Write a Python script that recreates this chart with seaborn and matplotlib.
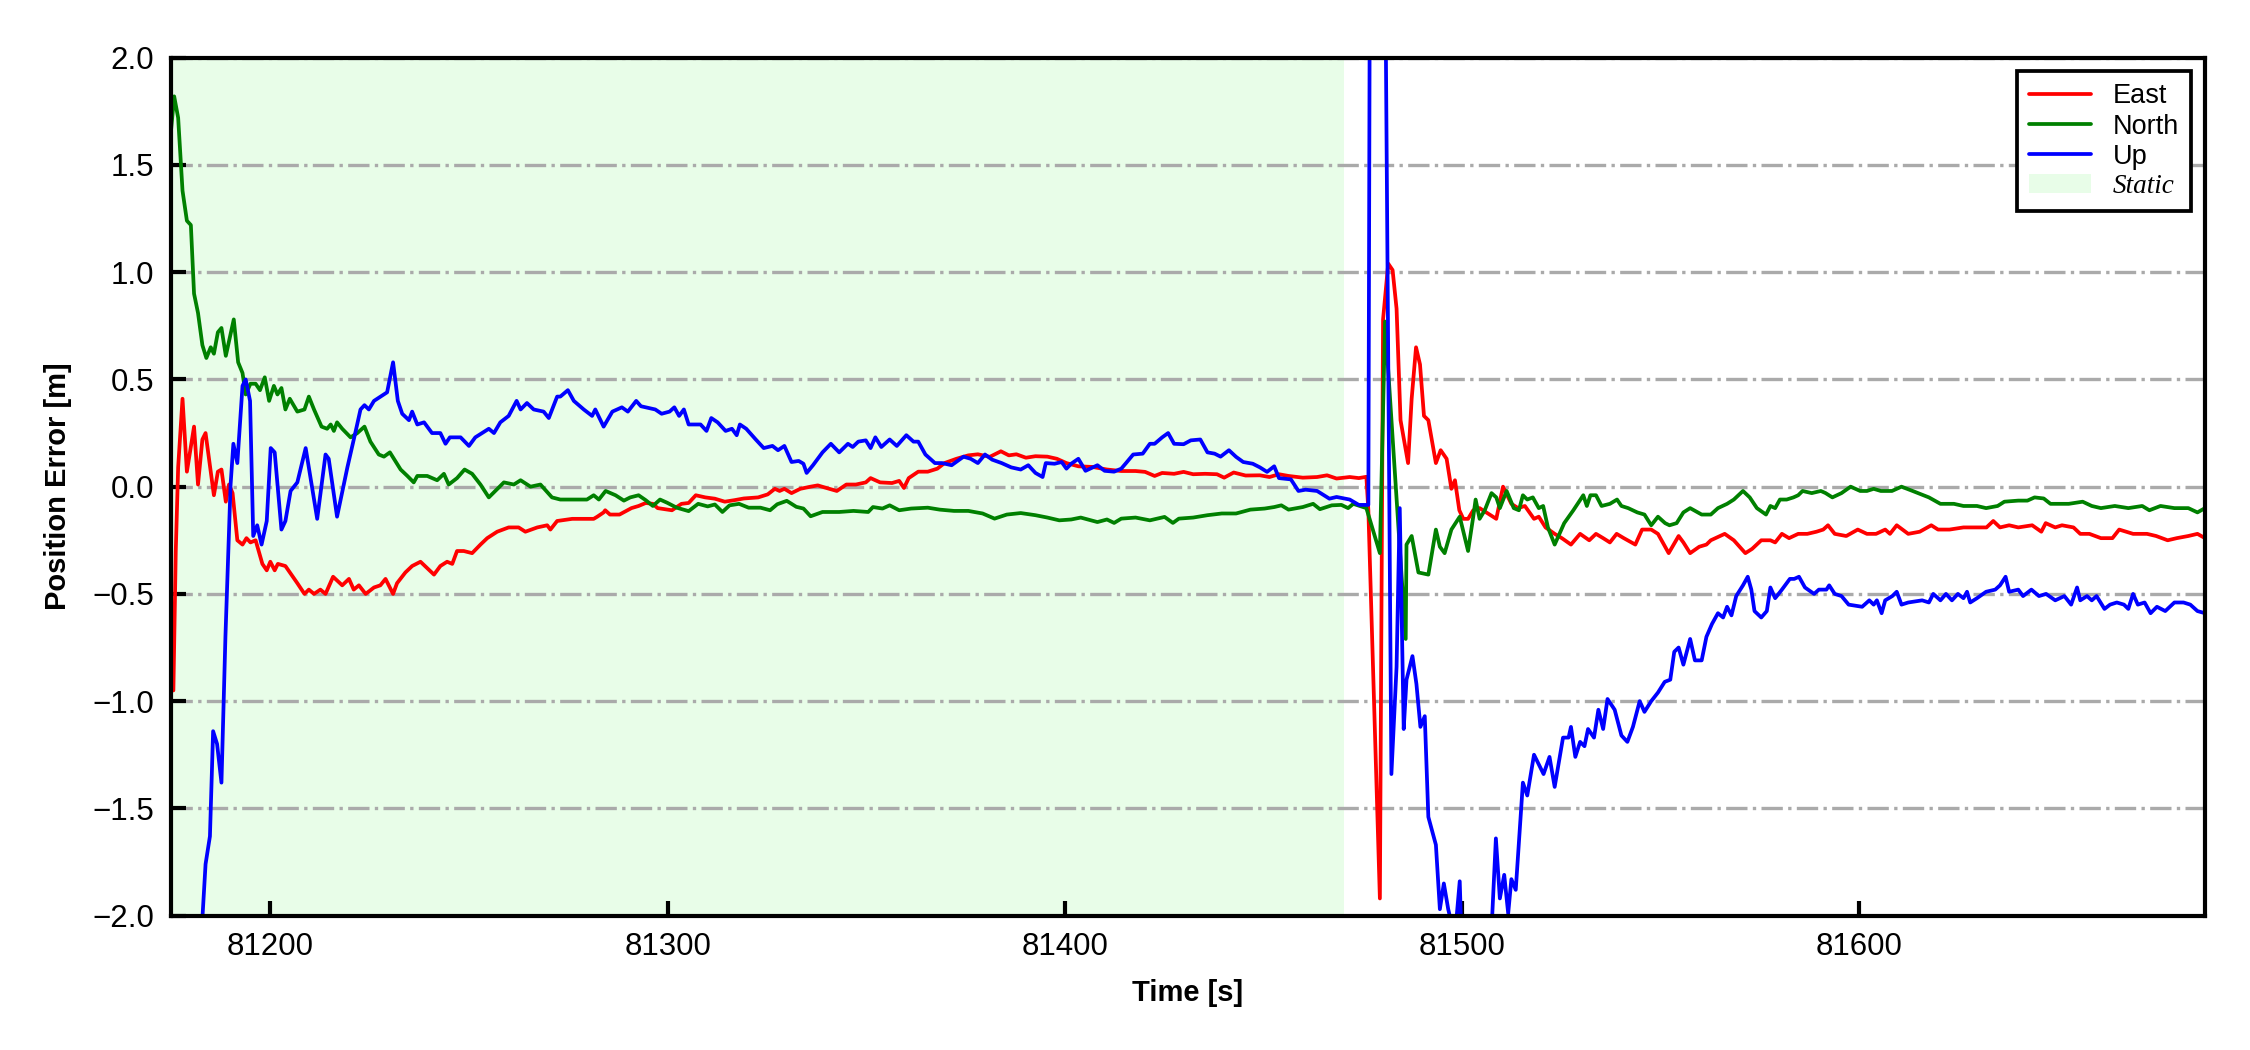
import numpy as np
import pandas as pd
import matplotlib
matplotlib.use("Agg")
import matplotlib.pyplot as plt
import seaborn as sns

# ----------------------------------------------------------------------------
# Data (time in s, position error in m)
# ----------------------------------------------------------------------------
east_t = [81175.0, 81175.6, 81176.2, 81176.8, 81177.9, 81179.0, 81180.8, 81181.8, 81182.9, 81183.7,
          81185.8, 81186.8, 81187.7, 81188.8, 81189.6, 81190.5, 81191.7, 81193.0, 81194.0, 81195.0,
          81196.3, 81198.0, 81199.1, 81200.0, 81201.1, 81201.9, 81203.8, 81205.3, 81206.8, 81208.6,
          81209.7, 81211.0, 81212.6, 81213.9, 81215.8, 81218.1, 81219.8, 81221.0, 81222.3, 81224.0,
          81226.1, 81227.7, 81229.0, 81230.9, 81231.9, 81234.0, 81235.7, 81237.8, 81239.5, 81241.2,
          81242.8, 81244.5, 81245.8, 81247.0, 81248.7, 81250.8, 81252.9, 81254.6, 81257.1, 81260.0,
          81262.5, 81264.2, 81267.2, 81269.7, 81270.5, 81272.2, 81276.0, 81278.9, 81281.4, 81282.3,
          81283.9, 81284.3, 81285.5, 81287.9, 81290.9, 81292.7, 81294.5, 81296.3, 81297.5, 81301.1,
          81303.5, 81305.3, 81307.1, 81309.5, 81311.9, 81314.4, 81316.8, 81319.2, 81322.8, 81325.2,
          81327.0, 81328.2, 81329.4, 81331.2, 81333.4, 81336.0, 81337.8, 81339.6, 81342.6, 81345.0,
          81347.4, 81349.9, 81351.1, 81353.5, 81356.5, 81358.3, 81359.5, 81360.7, 81363.1, 81365.5,
          81367.9, 81369.7, 81372.7, 81375.7, 81378.1, 81381.1, 81383.9, 81385.9, 81387.8, 81390.2,
          81392.6, 81395.6, 81398.0, 81400.4, 81403.4, 81407.0, 81410.6, 81414.2, 81417.8, 81420.2,
          81422.6, 81424.5, 81427.5, 81429.9, 81432.3, 81435.3, 81438.3, 81440.1, 81442.5, 81445.5,
          81449.1, 81451.5, 81453.9, 81456.3, 81459.9, 81463.5, 81466.0, 81468.4, 81471.7, 81474.0,
          81475.9, 81476.4, 81479.3, 81480.1, 81481.4, 81482.5, 81483.5, 81484.5, 81486.4, 81487.3,
          81488.4, 81489.4, 81490.4, 81491.5, 81493.4, 81494.6, 81496.1, 81497.3, 81498.2, 81499.3,
          81500.3, 81501.5, 81502.8, 81504.4, 81506.1, 81508.6, 81510.3, 81512.4, 81514.1, 81515.8,
          81518.1, 81519.3, 81521.0, 81523.3, 81525.1, 81527.4, 81529.7, 81532.0, 81533.7, 81535.5,
          81537.2, 81538.9, 81540.7, 81543.6, 81545.3, 81547.6, 81549.3, 81552.0, 81554.5, 81555.7,
          81557.4, 81559.7, 81561.5, 81562.6, 81566.1, 81568.4, 81571.3, 81573.0, 81575.3, 81577.6,
          81578.8, 81580.5, 81582.3, 81584.6, 81586.9, 81589.2, 81590.9, 81592.1, 81593.8, 81596.7,
          81599.6, 81601.9, 81604.2, 81606.5, 81607.7, 81609.4, 81612.3, 81615.2, 81618.1, 81619.8,
          81622.7, 81626.2, 81629.6, 81632.0, 81633.7, 81635.4, 81637.7, 81640.0, 81643.5, 81645.8,
          81646.9, 81649.3, 81651.0, 81653.9, 81655.6, 81657.9, 81660.8, 81663.7, 81665.4, 81668.9,
          81672.4, 81674.7, 81677.6, 81679.9, 81682.8, 81685.1, 81687.0]
east_v = [-0.95, -0.95, -0.30, 0.09, 0.41, 0.07, 0.28, 0.01, 0.22, 0.25,
          -0.04, 0.07, 0.08, -0.07, 0.01, -0.03, -0.25, -0.27, -0.24, -0.26,
          -0.25, -0.36, -0.39, -0.35, -0.39, -0.36, -0.37, -0.41, -0.45, -0.50,
          -0.48, -0.50, -0.48, -0.50, -0.42, -0.46, -0.43, -0.48, -0.46, -0.50,
          -0.47, -0.46, -0.43, -0.50, -0.45, -0.40, -0.37, -0.35, -0.38, -0.41,
          -0.37, -0.35, -0.36, -0.30, -0.30, -0.31, -0.27, -0.24, -0.21, -0.19,
          -0.19, -0.21, -0.19, -0.18, -0.20, -0.16, -0.15, -0.15, -0.15, -0.14,
          -0.12, -0.11, -0.13, -0.13, -0.10, -0.09, -0.076, -0.08, -0.10, -0.11,
          -0.08, -0.076, -0.04, -0.05, -0.056, -0.07, -0.063, -0.055, -0.05, -0.036,
          -0.01, -0.02, -0.01, -0.03, -0.01, 0.0, 0.006, -0.004, -0.02, 0.01,
          0.01, 0.02, 0.04, 0.02, 0.017, 0.027, -0.006, 0.04, 0.07, 0.07,
          0.084, 0.11, 0.13, 0.146, 0.151, 0.139, 0.165, 0.146, 0.151, 0.135,
          0.142, 0.14, 0.13, 0.11, 0.095, 0.092, 0.08, 0.073, 0.073, 0.069,
          0.05, 0.064, 0.06, 0.069, 0.058, 0.06, 0.058, 0.042, 0.066, 0.052,
          0.053, 0.045, 0.058, 0.05, 0.042, 0.045, 0.053, 0.038, 0.045, 0.04,
          0.046, -0.11, -1.92, 0.78, 1.04, 1.01, 0.83, 0.31, 0.11, 0.41,
          0.65, 0.57, 0.33, 0.31, 0.11, 0.17, 0.13, -0.01, 0.03, -0.11,
          -0.15, -0.15, -0.11, -0.10, -0.12, -0.15, 0.0, -0.08, -0.10, -0.09,
          -0.15, -0.14, -0.19, -0.22, -0.24, -0.27, -0.22, -0.25, -0.22, -0.24,
          -0.26, -0.22, -0.24, -0.27, -0.20, -0.20, -0.22, -0.31, -0.23, -0.26,
          -0.31, -0.28, -0.27, -0.25, -0.22, -0.25, -0.31, -0.29, -0.25, -0.25,
          -0.26, -0.22, -0.24, -0.22, -0.22, -0.21, -0.20, -0.18, -0.22, -0.23,
          -0.20, -0.22, -0.22, -0.20, -0.22, -0.18, -0.22, -0.21, -0.18, -0.20,
          -0.20, -0.19, -0.19, -0.19, -0.16, -0.19, -0.18, -0.19, -0.18, -0.21,
          -0.17, -0.19, -0.18, -0.19, -0.22, -0.22, -0.24, -0.24, -0.20, -0.22,
          -0.22, -0.23, -0.25, -0.24, -0.23, -0.22, -0.24]

north_t = [81175.0, 81175.8, 81176.8, 81177.9, 81179.0, 81180.0, 81180.8, 81181.8, 81182.9, 81183.9,
           81185.0, 81185.8, 81186.8, 81187.7, 81188.8, 81190.8, 81191.9, 81193.0, 81193.8, 81195.0,
           81196.3, 81197.4, 81198.6, 81199.7, 81200.9, 81201.8, 81202.8, 81203.8, 81204.9, 81206.8,
           81208.6, 81209.7, 81211.0, 81212.9, 81214.3, 81215.2, 81216.0, 81216.8, 81218.1, 81220.2,
           81221.9, 81223.7, 81225.2, 81227.3, 81228.6, 81230.1, 81232.8, 81234.5, 81236.1, 81237.0,
           81239.5, 81242.0, 81243.7, 81244.9, 81247.0, 81248.9, 81250.8, 81252.9, 81255.0, 81258.8,
           81261.3, 81263.0, 81265.5, 81268.0, 81270.9, 81273.0, 81276.0, 81279.7, 81281.4, 81282.7,
           81284.4, 81286.9, 81289.0, 81290.6, 81292.7, 81294.5, 81296.3, 81298.1, 81299.9, 81302.3,
           81305.3, 81307.7, 81310.1, 81311.9, 81313.8, 81315.6, 81318.0, 81320.4, 81323.4, 81325.8,
           81327.6, 81330.0, 81332.4, 81334.2, 81336.0, 81339.0, 81343.2, 81346.8, 81350.5, 81351.7,
           81354.1, 81355.9, 81358.3, 81361.3, 81365.5, 81368.5, 81372.1, 81375.7, 81379.3, 81382.3,
           81385.4, 81388.9, 81392.6, 81395.6, 81398.6, 81401.6, 81404.0, 81408.2, 81410.6, 81412.4,
           81414.2, 81417.8, 81421.4, 81425.1, 81427.2, 81428.7, 81432.3, 81435.9, 81439.5, 81443.1,
           81446.7, 81450.3, 81452.7, 81454.5, 81456.3, 81459.9, 81462.5, 81464.2, 81467.2, 81469.6,
           81471.3, 81472.6, 81475.9, 81479.3, 81480.6, 81485.8, 81486.0, 81487.3, 81489.0, 81491.5,
           81493.4, 81494.4, 81495.6, 81497.3, 81499.4, 81501.5, 81502.8, 81503.4, 81504.4, 81505.7,
           81507.4, 81508.6, 81509.5, 81511.2, 81513.0, 81514.3, 81515.3, 81516.4, 81517.8, 81519.3,
           81520.4, 81521.6, 81523.3, 81525.7, 81528.0, 81530.5, 81531.4, 81532.3, 81533.7, 81535.1,
           81537.2, 81539.0, 81540.1, 81541.8, 81544.1, 81545.9, 81547.6, 81549.3, 81551.1, 81552.2,
           81554.0, 81555.7, 81557.4, 81560.3, 81562.6, 81564.4, 81566.7, 81568.4, 81570.7, 81572.4,
           81574.2, 81576.5, 81577.6, 81578.8, 81580.0, 81581.7, 81583.4, 81584.6, 81585.7, 81588.0,
           81590.3, 81591.5, 81593.2, 81595.5, 81597.8, 81600.2, 81601.9, 81603.6, 81605.4, 81608.2,
           81610.6, 81613.4, 81617.5, 81620.4, 81623.8, 81626.2, 81629.6, 81631.9, 81634.8, 81636.5,
           81640.0, 81642.3, 81644.1, 81646.4, 81648.1, 81652.7, 81656.2, 81658.5, 81660.8, 81664.3,
           81667.7, 81671.2, 81673.0, 81675.8, 81679.3, 81682.8, 81685.1, 81687.0]
north_v = [1.66, 1.82, 1.72, 1.38, 1.24, 1.22, 0.90, 0.81, 0.66, 0.60,
           0.65, 0.62, 0.72, 0.74, 0.61, 0.78, 0.58, 0.53, 0.43, 0.48,
           0.48, 0.45, 0.51, 0.40, 0.47, 0.43, 0.46, 0.36, 0.41, 0.35,
           0.36, 0.42, 0.36, 0.28, 0.27, 0.29, 0.26, 0.30, 0.27, 0.23,
           0.25, 0.28, 0.21, 0.15, 0.14, 0.16, 0.08, 0.05, 0.02, 0.05,
           0.05, 0.03, 0.06, 0.01, 0.04, 0.08, 0.06, 0.01, -0.05, 0.02,
           0.01, 0.03, 0.0, 0.01, -0.05, -0.06, -0.06, -0.06, -0.04, -0.06,
           -0.02, -0.04, -0.065, -0.05, -0.04, -0.063, -0.09, -0.06, -0.075, -0.098,
           -0.114, -0.08, -0.092, -0.083, -0.118, -0.087, -0.08, -0.098, -0.098, -0.11,
           -0.082, -0.066, -0.094, -0.102, -0.138, -0.118, -0.118, -0.113, -0.118, -0.095,
           -0.102, -0.087, -0.11, -0.102, -0.098, -0.107, -0.113, -0.113, -0.125, -0.149,
           -0.13, -0.123, -0.133, -0.144, -0.157, -0.153, -0.144, -0.165, -0.153, -0.169,
           -0.149, -0.144, -0.157, -0.141, -0.169, -0.149, -0.144, -0.133, -0.125, -0.125,
           -0.107, -0.102, -0.095, -0.087, -0.107, -0.095, -0.08, -0.105, -0.087, -0.085,
           -0.10, -0.08, -0.10, -0.31, 0.77, -0.71, -0.27, -0.23, -0.40, -0.41,
           -0.20, -0.28, -0.31, -0.20, -0.14, -0.30, -0.14, -0.06, -0.15, -0.11,
           -0.03, -0.05, -0.10, -0.02, -0.10, -0.11, -0.04, -0.06, -0.05, -0.10,
           -0.09, -0.19, -0.27, -0.17, -0.11, -0.04, -0.09, -0.04, -0.04, -0.09,
           -0.08, -0.06, -0.09, -0.10, -0.12, -0.13, -0.18, -0.14, -0.17, -0.18,
           -0.17, -0.12, -0.10, -0.13, -0.13, -0.10, -0.08, -0.06, -0.02, -0.05,
           -0.10, -0.13, -0.09, -0.10, -0.06, -0.06, -0.05, -0.04, -0.02, -0.03,
           -0.02, -0.03, -0.05, -0.03, 0.0, -0.02, -0.02, -0.01, -0.02, -0.02,
           0.0, -0.02, -0.05, -0.08, -0.08, -0.09, -0.09, -0.10, -0.09, -0.07,
           -0.065, -0.065, -0.05, -0.055, -0.08, -0.08, -0.07, -0.09, -0.10, -0.09,
           -0.10, -0.09, -0.11, -0.09, -0.10, -0.10, -0.12, -0.10]

up_t = [81175.0, 81182.0, 81183.7, 81184.8, 81185.6, 81186.6, 81187.7, 81188.7, 81190.0, 81190.7,
        81191.7, 81193.0, 81193.8, 81194.9, 81195.7, 81196.7, 81197.8, 81199.1, 81200.1, 81201.1,
        81202.8, 81203.8, 81205.1, 81206.8, 81208.9, 81211.8, 81213.9, 81214.7, 81216.8, 81219.4,
        81221.5, 81222.7, 81223.7, 81224.8, 81226.1, 81228.6, 81229.4, 81230.9, 81232.1, 81233.2,
        81234.9, 81235.7, 81237.0, 81238.7, 81240.7, 81242.8, 81244.1, 81245.2, 81247.9, 81250.0,
        81251.6, 81255.0, 81256.3, 81257.9, 81260.0, 81262.0, 81263.0, 81264.6, 81266.3, 81268.8,
        81270.1, 81272.2, 81273.0, 81274.9, 81276.4, 81278.9, 81281.0, 81281.8, 81283.9, 81286.1,
        81288.5, 81290.0, 81292.1, 81293.3, 81296.9, 81298.5, 81300.5, 81301.7, 81302.9, 81304.1,
        81305.3, 81308.3, 81309.8, 81311.0, 81312.6, 81314.6, 81316.2, 81317.4, 81318.2, 81319.8,
        81322.2, 81324.2, 81326.4, 81327.8, 81329.4, 81331.2, 81333.0, 81334.2, 81335.0, 81336.6,
        81339.0, 81341.1, 81343.2, 81345.4, 81346.6, 81348.0, 81349.9, 81351.1, 81352.3, 81353.8,
        81355.9, 81357.7, 81360.1, 81361.9, 81363.1, 81364.9, 81367.3, 81369.1, 81371.5, 81374.5,
        81376.3, 81378.1, 81379.9, 81381.7, 81384.1, 81386.5, 81388.9, 81390.8, 81392.6, 81394.4,
        81395.2, 81397.4, 81399.2, 81400.4, 81401.6, 81403.4, 81405.2, 81408.2, 81410.0, 81412.4,
        81414.2, 81415.4, 81417.2, 81419.6, 81421.4, 81422.6, 81424.5, 81426.0, 81427.5, 81429.9,
        81431.7, 81434.1, 81435.9, 81437.7, 81439.2, 81441.3, 81443.1, 81444.9, 81447.3, 81449.1,
        81450.9, 81452.7, 81453.9, 81456.9, 81458.8, 81460.6, 81463.5, 81466.6, 81468.4, 81471.7,
        81474.0, 81476.4, 81477.0, 81480.0, 81482.2, 81483.5, 81484.3, 81485.3, 81486.0, 81487.5,
        81488.5, 81489.5, 81490.6, 81491.5, 81493.4, 81494.4, 81495.4, 81496.5, 81497.5, 81498.6,
        81499.4, 81500.0, 81504.0, 81507.4, 81508.5, 81509.5, 81510.6, 81511.6, 81512.4, 81513.5,
        81515.3, 81516.4, 81518.1, 81520.5, 81522.0, 81523.3, 81525.4, 81526.8, 81527.4, 81528.5,
        81529.7, 81530.8, 81531.7, 81533.2, 81534.3, 81535.5, 81536.6, 81538.4, 81540.1, 81541.6,
        81543.0, 81544.7, 81545.9, 81547.6, 81549.3, 81551.0, 81552.4, 81553.4, 81554.5, 81555.7,
        81557.4, 81558.6, 81560.3, 81561.5, 81562.9, 81564.4, 81565.7, 81566.7, 81567.8, 81569.0,
        81570.7, 81571.9, 81572.8, 81573.6, 81575.3, 81576.7, 81577.6, 81578.8, 81580.5, 81582.5,
        81583.6, 81584.8, 81586.3, 81588.6, 81589.8, 81591.7, 81592.4, 81593.8, 81595.5, 81597.3,
        81600.7, 81602.5, 81603.6, 81604.4, 81605.6, 81606.5, 81608.3, 81609.4, 81610.6, 81612.3,
        81615.8, 81617.5, 81618.6, 81620.4, 81621.8, 81623.3, 81624.8, 81626.2, 81627.1, 81627.9,
        81629.6, 81631.9, 81634.2, 81635.4, 81636.8, 81637.7, 81640.0, 81641.2, 81643.3, 81645.2,
        81647.0, 81649.3, 81651.6, 81653.3, 81654.8, 81655.6, 81657.3, 81658.5, 81659.7, 81661.7,
        81663.1, 81664.8, 81666.6, 81667.7, 81668.9, 81670.1, 81671.8, 81673.3, 81674.9, 81677.0,
        81679.3, 81681.6, 81683.3, 81685.1, 81687.0]
up_v = [-3.2, -2.3, -1.76, -1.63, -1.14, -1.20, -1.38, -0.70, 0.01, 0.20,
        0.11, 0.47, 0.50, 0.40, -0.23, -0.18, -0.27, -0.16, 0.18, 0.16,
        -0.20, -0.16, -0.02, 0.02, 0.18, -0.15, 0.15, 0.13, -0.14, 0.09,
        0.26, 0.36, 0.38, 0.36, 0.40, 0.43, 0.44, 0.58, 0.40, 0.34,
        0.31, 0.35, 0.29, 0.30, 0.25, 0.25, 0.20, 0.23, 0.23, 0.19,
        0.23, 0.27, 0.25, 0.30, 0.33, 0.40, 0.36, 0.39, 0.36, 0.35,
        0.32, 0.42, 0.42, 0.45, 0.40, 0.36, 0.33, 0.36, 0.28, 0.35,
        0.37, 0.35, 0.40, 0.375, 0.36, 0.34, 0.35, 0.37, 0.33, 0.36,
        0.29, 0.29, 0.26, 0.32, 0.30, 0.26, 0.27, 0.24, 0.29, 0.27,
        0.22, 0.18, 0.19, 0.17, 0.19, 0.115, 0.12, 0.107, 0.064, 0.10,
        0.16, 0.20, 0.16, 0.20, 0.185, 0.21, 0.216, 0.18, 0.23, 0.185,
        0.22, 0.19, 0.24, 0.21, 0.21, 0.15, 0.11, 0.11, 0.10, 0.14,
        0.13, 0.11, 0.15, 0.126, 0.11, 0.09, 0.08, 0.10, 0.064, 0.045,
        0.11, 0.107, 0.115, 0.084, 0.107, 0.13, 0.074, 0.10, 0.074, 0.07,
        0.084, 0.11, 0.15, 0.154, 0.20, 0.20, 0.23, 0.25, 0.20, 0.198,
        0.216, 0.22, 0.16, 0.154, 0.14, 0.17, 0.139, 0.115, 0.107, 0.09,
        0.069, 0.095, 0.04, 0.034, -0.02, -0.014, -0.02, -0.056, -0.048, -0.06,
        -0.085, -0.085, 4.0, 4.0, -1.34, -0.84, -0.10, -1.13, -0.90, -0.79,
        -0.92, -1.12, -1.07, -1.54, -1.67, -1.97, -1.85, -1.97, -2.05, -2.01,
        -1.84, -2.2, -2.3, -2.07, -1.64, -1.92, -1.81, -1.99, -1.83, -1.88,
        -1.38, -1.44, -1.25, -1.34, -1.26, -1.40, -1.17, -1.17, -1.12, -1.26,
        -1.19, -1.21, -1.13, -1.17, -1.04, -1.13, -0.99, -1.04, -1.16, -1.19,
        -1.12, -1.00, -1.05, -1.00, -0.96, -0.91, -0.90, -0.77, -0.75, -0.83,
        -0.71, -0.81, -0.81, -0.70, -0.64, -0.59, -0.61, -0.56, -0.60, -0.51,
        -0.46, -0.42, -0.48, -0.58, -0.61, -0.58, -0.47, -0.52, -0.48, -0.43,
        -0.43, -0.42, -0.47, -0.50, -0.48, -0.48, -0.46, -0.50, -0.51, -0.55,
        -0.56, -0.53, -0.55, -0.53, -0.59, -0.53, -0.51, -0.49, -0.55, -0.54,
        -0.53, -0.54, -0.50, -0.53, -0.50, -0.53, -0.50, -0.52, -0.49, -0.54,
        -0.52, -0.49, -0.48, -0.46, -0.42, -0.49, -0.48, -0.51, -0.48, -0.51,
        -0.50, -0.53, -0.51, -0.55, -0.47, -0.53, -0.51, -0.53, -0.51, -0.57,
        -0.55, -0.54, -0.55, -0.57, -0.50, -0.55, -0.54, -0.59, -0.56, -0.58,
        -0.54, -0.54, -0.55, -0.58, -0.59]

static_start = 81175.0
static_end = 81470.3

x_ticks = [81200, 81300, 81400, 81500, 81600]
y_ticks = [-2.0, -1.5, -1.0, -0.5, 0.0, 0.5, 1.0, 1.5, 2.0]

# ----------------------------------------------------------------------------
# Plot
# ----------------------------------------------------------------------------
sns.set_style("ticks")
plt.rcParams["font.family"] = ["Liberation Sans", "DejaVu Sans"]
plt.rcParams["text.color"] = "black"
plt.rcParams["axes.labelcolor"] = "black"
plt.rcParams["xtick.color"] = "black"
plt.rcParams["ytick.color"] = "black"

fig = plt.figure(figsize=(7.5, 3.5), dpi=300)
ax = fig.add_axes([0.076, 0.128, 0.904, 0.817])

sns.lineplot(x=east_t, y=east_v, color="red", linewidth=0.9, label="East", ax=ax)
sns.lineplot(x=north_t, y=north_v, color="green", linewidth=0.9, label="North", ax=ax)
sns.lineplot(x=up_t, y=up_v, color="blue", linewidth=0.9, label="Up", ax=ax)
ax.axvspan(static_start, static_end, facecolor="#e8fde8", edgecolor="none",
           zorder=0, label="Static")

ax.set_xlim(81175, 81687)
ax.set_ylim(-2, 2)
ax.set_xticks(x_ticks)
ax.set_yticks(y_ticks)
ax.yaxis.grid(True, linestyle="-.", color="#aaaaaa", linewidth=0.8)
ax.set_axisbelow(True)

ax.tick_params(direction="in", length=3.5, width=1.0, labelsize=7.5, pad=4,
               colors="black", top=False, right=False)
for sp in ax.spines.values():
    sp.set_linewidth(1.0)
    sp.set_color("black")

ax.set_xlabel("Time [s]", fontsize=7, fontweight="bold", labelpad=4, color="black")
ax.set_ylabel("Position Error [m]", fontsize=7, fontweight="bold", labelpad=5, color="black")

leg = ax.legend(loc="upper right", fontsize=6.5, frameon=True, fancybox=False,
                framealpha=1, edgecolor="black", handlelength=2.3,
                handletextpad=0.8, labelspacing=0.15, borderaxespad=0.5,
                borderpad=0.45)
leg.get_frame().set_linewidth(0.9)
for txt in leg.get_texts():
    txt.set_color("black")
static_txt = leg.get_texts()[3]
static_txt.set_fontfamily(["Liberation Serif", "DejaVu Serif"])
static_txt.set_fontstyle("italic")

fig.savefig("out.png", dpi=300)
